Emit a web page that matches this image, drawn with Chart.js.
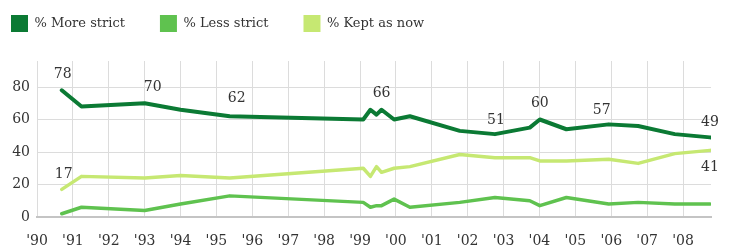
<!DOCTYPE html>
<html>
<head>
<meta charset="utf-8">
<script src="https://cdn.jsdelivr.net/npm/chart.js@4"></script>
<style>
  body { margin: 0; background: #fff; }
  #gunChart { display: block; }
</style>
</head>
<body>
<canvas id="gunChart" width="729" height="251"></canvas>
<script>
// poll dates as decimal years
const pollDates = [1990.69, 1991.24, 1993.0, 1994.0, 1995.37, 1999.09, 1999.29, 1999.46, 1999.6, 1999.95,
  2000.39, 2001.78, 2002.76, 2003.73, 2004.01, 2004.75, 2005.93, 2006.75, 2007.77, 2008.75];
const moreStrict = [78, 68, 70, 66, 62, 60, 66, 63, 66, 60, 62, 53, 51, 55, 60, 54, 57, 56, 51, 49];
const lessStrict = [2, 6, 4, 8, 13, 9, 6, 7, 7, 11, 6, 9, 12, 10, 7, 12, 8, 9, 8, 8];
const keptAsNow = [17, 25, 24, 25.5, 24, 30, 25, 31, 27.5, 30, 31, 38.5, 36.5, 36.5, 34.5, 34.5, 35.5, 33, 39, 41];
const seriesNames = ["% More strict", "% Less strict", "% Kept as now"];
const yTicks = [0, 20, 40, 60, 80];
const xTickYears = [1990, 1991, 1992, 1993, 1994, 1995, 1996, 1997, 1998, 1999,
  2000, 2001, 2002, 2003, 2004, 2005, 2006, 2007, 2008];

// which points get a value label: [dataset, index, dx, dy]
const valueLabels = [
  [0, 0, 1, -16], [0, 2, 8, -16], [0, 4, 7, -18], [0, 8, 0, -16],
  [0, 12, 1, -14], [0, 14, 0, -16], [0, 16, -7, -14], [0, 19, 0, -15],
  [2, 0, 2, -15], [2, 19, 0, 17]
];

const FONT = "'DejaVu Serif', 'Liberation Serif', serif";
const LEGEND_PAD = 35;

const toPoints = vals => vals.map((v, i) => ({ x: pollDates[i], y: v }));

// move the legend so its first box sits where the original has it
const legendShift = {
  id: "legendShift",
  afterLayout(chart) {
    chart.legend.left = 11 - LEGEND_PAD;
    chart.legend.top = 15 - LEGEND_PAD;
  }
};

const pointLabels = {
  id: "pointLabels",
  afterDatasetsDraw(chart) {
    const ctx = chart.ctx;
    ctx.save();
    ctx.font = "14px " + FONT;
    ctx.fillStyle = "#333";
    ctx.textAlign = "center";
    ctx.textBaseline = "middle";
    valueLabels.forEach(([ds, idx, dx, dy]) => {
      const pt = chart.getDatasetMeta(ds).data[idx];
      const val = chart.data.datasets[ds].data[idx].y;
      ctx.fillText(String(Math.round(val)), pt.x + dx, pt.y + dy);
    });
    ctx.restore();
  }
};

new Chart(document.getElementById("gunChart"), {
  type: "line",
  data: {
    datasets: [
      { label: seriesNames[0], data: toPoints(moreStrict), borderColor: "#0b7a34", backgroundColor: "#0b7a34", borderWidth: 4 },
      { label: seriesNames[1], data: toPoints(lessStrict), borderColor: "#5fc24f", backgroundColor: "#5fc24f", borderWidth: 3.5 },
      { label: seriesNames[2], data: toPoints(keptAsNow), borderColor: "#c6e872", backgroundColor: "#c6e872", borderWidth: 3.5 }
    ]
  },
  options: {
    responsive: false,
    animation: false,
    layout: { padding: { left: 0, right: 18, top: 0, bottom: 0 } },
    elements: {
      point: { radius: 0 },
      line: { tension: 0, borderJoinStyle: "round", borderCapStyle: "round" }
    },
    plugins: {
      legend: {
        position: "top",
        align: "start",
        maxHeight: 61,
        labels: {
          boxWidth: 17,
          boxHeight: 17,
          padding: LEGEND_PAD,
          color: "#333",
          font: { family: FONT, size: 13 },
          generateLabels: chart =>
            Chart.defaults.plugins.legend.labels.generateLabels(chart)
              .map(item => ({ ...item, lineWidth: 0 }))
        }
      },
      tooltip: { enabled: false }
    },
    scales: {
      x: {
        type: "linear",
        min: 1990,
        max: 2008.78,
        afterBuildTicks: axis => {
          axis.ticks = xTickYears.map(v => ({ value: v }));
        },
        afterFit: scale => { scale.height = 34; },
        ticks: {
          padding: 16,
          color: "#333",
          font: { family: FONT, size: 14 },
          maxRotation: 0,
          autoSkip: false,
          callback: v => "'" + String(v).slice(2)
        },
        grid: { color: "#dcdcdc", lineWidth: 1, drawTicks: false },
        border: { display: true, color: "#c4c4c4", width: 2 }
      },
      y: {
        min: 0,
        max: 96,
        afterBuildTicks: axis => {
          axis.ticks = yTicks.map(v => ({ value: v }));
        },
        afterFit: scale => { scale.width = 37; },
        ticks: {
          padding: 7,
          color: "#333",
          font: { family: FONT, size: 14 }
        },
        grid: { color: "#dcdcdc", lineWidth: 1, drawTicks: false },
        border: { display: false }
      }
    }
  },
  plugins: [legendShift, pointLabels]
});
</script>
</body>
</html>
